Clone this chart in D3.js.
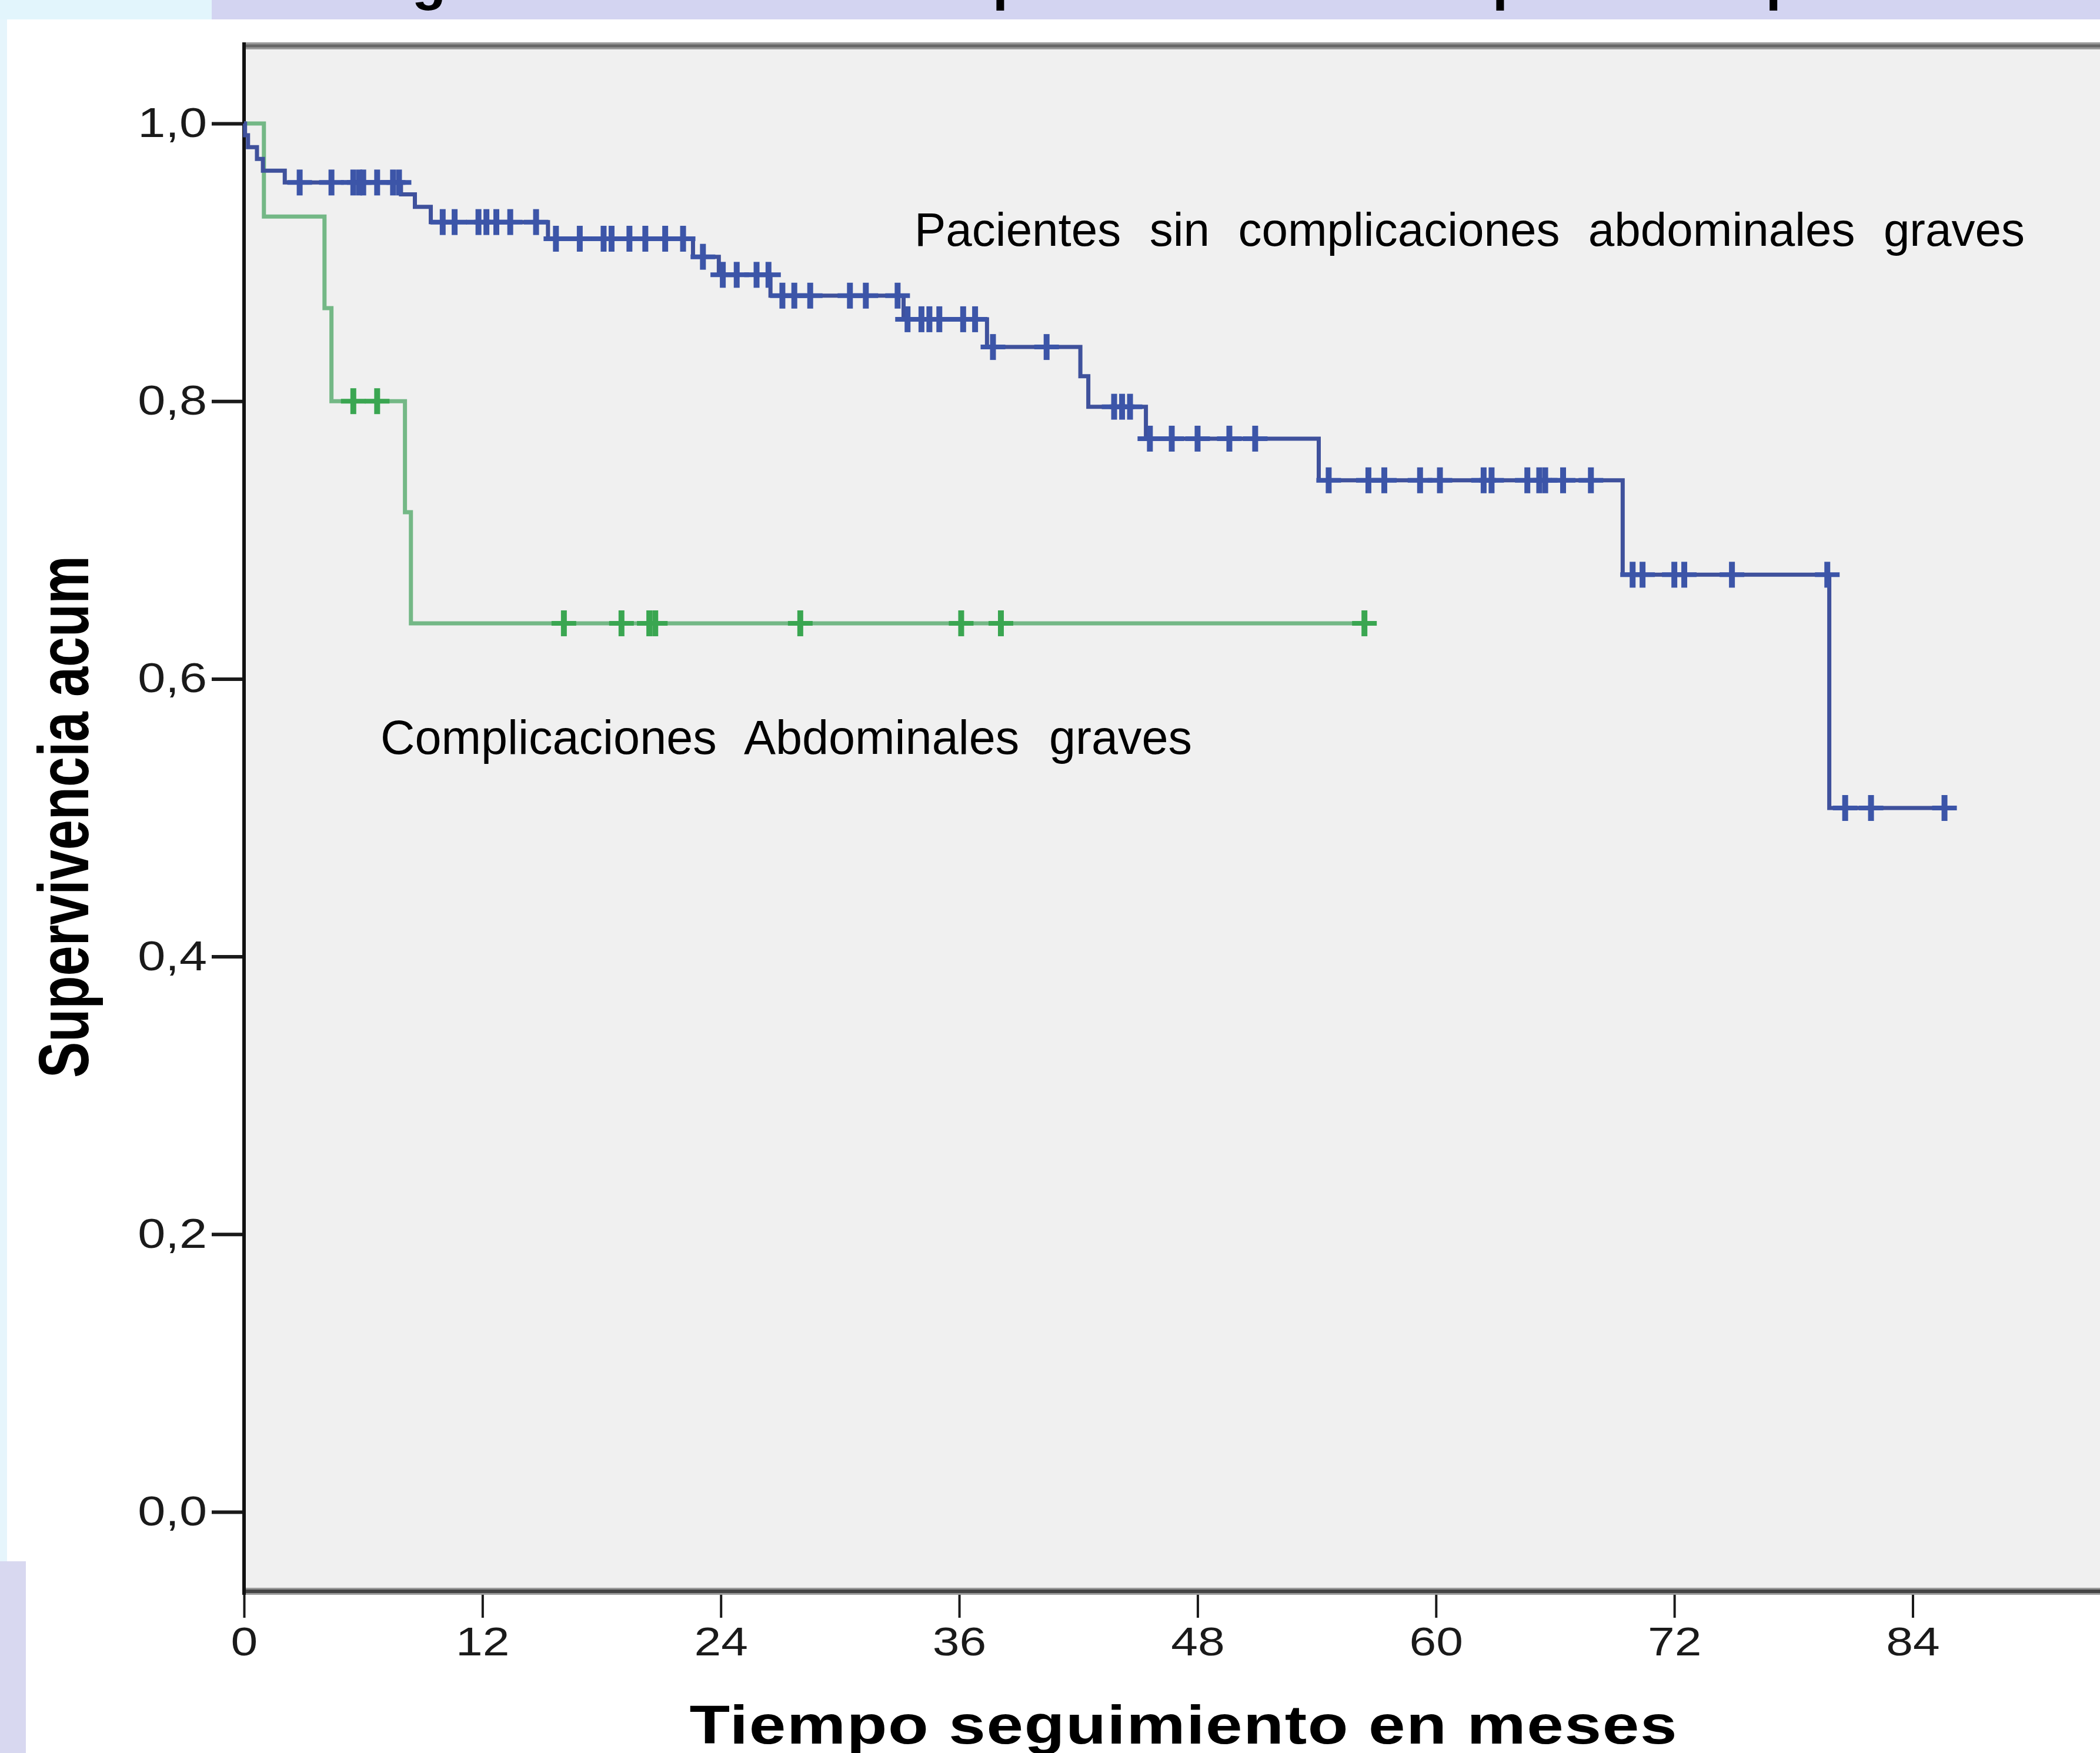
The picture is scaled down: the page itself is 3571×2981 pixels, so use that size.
<!DOCTYPE html>
<html>
<head>
<meta charset="utf-8">
<script src="https://cdn.jsdelivr.net/npm/d3@7"></script>
<style>
  html, body { margin: 0; padding: 0; background: #ffffff; }
  svg { display: block; }
</style>
</head>
<body>
<div id="chart"></div>
<script>
// Kaplan-Meier steps: [time in months, cumulative survival after the step]
const sinComplicacionesSteps = [
  [0, 1.0], [0.05, 0.9915], [0.2, 0.983], [0.65, 0.9745], [0.95, 0.966],
  [2.05, 0.9575], [7.9, 0.949], [8.6, 0.940], [9.4, 0.929], [15.3, 0.917],
  [22.6, 0.904], [23.9, 0.891], [26.5, 0.876], [33.2, 0.859], [37.4, 0.839],
  [42.1, 0.818], [42.5, 0.796], [45.4, 0.773], [54.1, 0.743], [69.4, 0.675],
  [79.8, 0.507]
];
const sinComplicacionesEnd = 85.6;
const sinComplicacionesCensored = [
  2.8, 4.4, 5.5, 5.8, 6.0, 6.7, 7.5, 7.8,
  10.0, 10.6, 11.8, 12.2, 12.7, 13.4, 14.7,
  15.7, 16.9, 18.1, 18.5, 19.4, 20.2, 21.2, 22.1,
  23.1, 24.1, 24.8, 25.8, 26.4,
  27.1, 27.7, 28.5, 30.5, 31.3, 32.9,
  33.4, 34.1, 34.5, 35.0, 36.2, 36.8,
  37.7, 40.4, 43.8, 44.2, 44.6,
  45.6, 46.7, 48.0, 49.6, 50.9,
  54.6, 56.6, 57.4, 59.2, 60.2, 62.4, 62.8, 64.6, 65.2, 65.5, 66.4, 67.8,
  69.9, 70.4, 72.0, 72.5, 74.9, 79.7,
  80.6, 81.9, 85.6
];

const complicacionesSteps = [
  [0, 1.0], [1.0, 0.933], [4.05, 0.867], [4.4, 0.80], [8.1, 0.72], [8.4, 0.64]
];
const complicacionesEnd = 56.4;
const complicacionesCensored = [5.5, 6.7, 16.1, 19.0, 20.4, 20.7, 28.0, 36.1, 38.1, 56.4];

const yTicks = [0, 0.2, 0.4, 0.6, 0.8, 1.0];
const xTicks = [0, 12, 24, 36, 48, 60, 72, 84];

const width = 3571;
const height = 2981;
const stretch = 1.21; // the chart picture is stretched sideways

const svg = d3.select('#chart').append('svg')
  .attr('width', width)
  .attr('height', height);

// slide background pieces around the cropped chart
svg.append('rect').attr('x', 0).attr('y', 0).attr('width', width).attr('height', height).attr('fill', '#ffffff');
svg.append('rect').attr('x', 0).attr('y', 0).attr('width', 12).attr('height', height).attr('fill', '#e6f5fc');
svg.append('rect').attr('x', 0).attr('y', 0).attr('width', 360).attr('height', 33).attr('fill', '#e2f5fc');
svg.append('rect').attr('x', 0).attr('y', 2655).attr('width', 44).attr('height', height - 2655).attr('fill', '#d8d8f0');
svg.append('rect').attr('x', 360).attr('y', 0).attr('width', width - 360).attr('height', 33).attr('fill', '#d3d4f1');

// slide title, cut off by the crop: only the descenders show
svg.append('clipPath').attr('id', 'title-clip')
  .append('rect').attr('x', 360).attr('y', 0).attr('width', width - 360).attr('height', 33);
svg.append('text')
  .attr('x', 616)
  .attr('y', -2)
  .attr('clip-path', 'url(#title-clip)')
  .style('font', 'bold 95px "Liberation Sans"')
  .attr('fill', '#000')
  .text('Figura 3. Curva de la supervivencia de los pacientes por estado clínico');

const x = d3.scaleLinear().domain([0, 96]).range([415, 415 + 96 * 33.78]);
const y = d3.scaleLinear().domain([0, 1]).range([2571, 210]);

const plotTop = 78;
const plotBottom = 2706;

// plot area
svg.append('rect')
  .attr('x', x(0))
  .attr('y', plotTop)
  .attr('width', width - x(0))
  .attr('height', plotBottom - plotTop)
  .attr('fill', '#f0f0f0');

// top frame line
svg.append('line')
  .attr('x1', x(0)).attr('x2', width)
  .attr('y1', plotTop).attr('y2', plotTop)
  .attr('stroke', '#9a9a9a').attr('stroke-width', 12);
svg.append('line')
  .attr('x1', x(0)).attr('x2', width)
  .attr('y1', plotTop).attr('y2', plotTop)
  .attr('stroke', '#666').attr('stroke-width', 5);

// axes
const yAxis = d3.axisLeft(y)
  .tickValues(yTicks)
  .tickSize(55)
  .tickPadding(10)
  .tickFormat(d => d.toFixed(1).replace('.', ','));

const xAxis = d3.axisBottom(x)
  .tickValues(xTicks)
  .tickSize(45)
  .tickPadding(16)
  .tickFormat(d3.format('d'));

const gy = svg.append('g')
  .attr('transform', `translate(${x(0)},0)`)
  .call(yAxis);
gy.select('.domain').remove();
gy.selectAll('.tick line').attr('stroke', '#1a1a1a').attr('stroke-width', 6);
gy.selectAll('.tick text')
  .attr('font-family', 'Liberation Sans')
  .attr('font-size', 70)
  .attr('fill', '#1a1a1a')
  .attr('transform', `translate(${-63},0) scale(${stretch},1)`)
  .attr('x', 0);

const gx = svg.append('g')
  .attr('transform', `translate(0,${plotBottom})`)
  .call(xAxis);
gx.select('.domain').remove();
gx.selectAll('.tick line').attr('stroke', '#1a1a1a').attr('stroke-width', 4);
gx.selectAll('.tick text')
  .attr('font-family', 'Liberation Sans')
  .attr('font-size', 68)
  .attr('fill', '#1a1a1a')
  .attr('transform', `scale(${stretch},1)`);

// bottom axis line
svg.append('line')
  .attr('x1', x(0)).attr('x2', width)
  .attr('y1', plotBottom).attr('y2', plotBottom)
  .attr('stroke', '#9a9a9a').attr('stroke-width', 12);
svg.append('line')
  .attr('x1', x(0)).attr('x2', width)
  .attr('y1', plotBottom).attr('y2', plotBottom)
  .attr('stroke', '#444').attr('stroke-width', 6);

// left axis line
svg.append('line')
  .attr('x1', x(0)).attr('x2', x(0))
  .attr('y1', plotTop - 6).attr('y2', plotBottom + 6)
  .attr('stroke', '#111').attr('stroke-width', 6);

// survival at a given time from the step list
function survivalAt(steps, t) {
  let s = steps[0][1];
  for (const [time, value] of steps) {
    if (time <= t) s = value;
  }
  return s;
}

const stepLine = d3.line()
  .x(d => x(d[0]))
  .y(d => y(d[1]))
  .curve(d3.curveStepAfter);

function drawCurve(steps, end, censored, lineColor, markColor, lineWidth) {
  const pts = steps.concat([[end, steps[steps.length - 1][1]]]);
  const g = svg.append('g');

  g.append('path')
    .datum(pts)
    .attr('d', stepLine)
    .attr('fill', 'none')
    .attr('stroke', lineColor)
    .attr('stroke-width', lineWidth)
    .attr('stroke-linejoin', 'miter');

  const marks = g.selectAll('.censor')
    .data(censored)
    .enter()
    .append('g')
    .attr('class', 'censor')
    .attr('transform', d => `translate(${x(d)},${y(survivalAt(steps, d))})`);

  marks.append('line')
    .attr('x1', 0).attr('x2', 0)
    .attr('y1', -22).attr('y2', 22)
    .attr('stroke', markColor)
    .attr('stroke-width', 10);
  marks.append('line')
    .attr('x1', -21).attr('x2', 21)
    .attr('y1', 0).attr('y2', 0)
    .attr('stroke', markColor)
    .attr('stroke-width', 8);
}

drawCurve(complicacionesSteps, complicacionesEnd, complicacionesCensored, '#74b886', '#3aa651', 7);
drawCurve(sinComplicacionesSteps, sinComplicacionesEnd, sinComplicacionesCensored, '#3f519c', '#3c55a8', 7);

// curve labels, widened through the word gaps to the reference width
function fitLabel(sel, target) {
  const len = sel.node().getComputedTextLength();
  const spaces = (sel.text().match(/ /g) || []).length;
  if (spaces > 0) sel.attr('word-spacing', Math.max(0, (target - len) / spaces));
}

const lab1 = svg.append('text')
  .attr('x', 1555).attr('y', 418)
  .attr('font-family', 'Liberation Sans')
  .attr('font-size', 80)
  .attr('fill', '#000')
  .text('Pacientes sin complicaciones abdominales graves');
fitLabel(lab1, 1888);

const lab2 = svg.append('text')
  .attr('x', 647).attr('y', 1282)
  .attr('font-family', 'Liberation Sans')
  .attr('font-size', 81)
  .attr('fill', '#000')
  .text('Complicaciones Abdominales graves');
fitLabel(lab2, 1380);

// axis titles (bold Arial, stretched sideways like the chart)
svg.append('text')
  .attr('transform', `translate(150,1389) scale(1.32,1) rotate(-90)`)
  .attr('text-anchor', 'middle')
  .attr('font-family', 'Liberation Sans')
  .attr('font-weight', 'bold')
  .attr('font-size', 92)
  .attr('fill', '#000')
  .attr('textLength', 888)
  .attr('lengthAdjust', 'spacing')
  .text('Supervivencia acum');

svg.append('text')
  .attr('transform', `translate(2012,2965) scale(${stretch},1)`)
  .attr('text-anchor', 'middle')
  .attr('font-family', 'Liberation Sans')
  .attr('font-weight', 'bold')
  .attr('font-size', 93)
  .attr('fill', '#000')
  .attr('textLength', 1679 / stretch)
  .attr('lengthAdjust', 'spacing')
  .text('Tiempo seguimiento en meses');
</script>
</body>
</html>
